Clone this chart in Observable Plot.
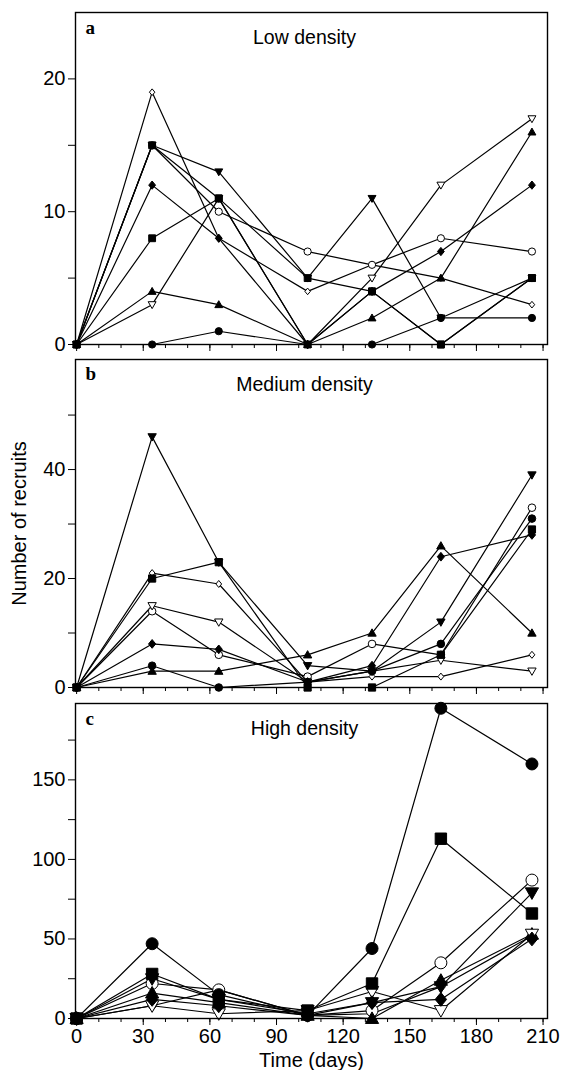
<!DOCTYPE html>
<html><head><meta charset="utf-8">
<script src="https://cdn.jsdelivr.net/npm/d3@7"></script>
<script src="https://cdn.jsdelivr.net/npm/@observablehq/plot@0.6"></script>
<style>body{margin:0;background:#fff}#chart svg{display:block}</style>
</head><body><div id="chart"></div><script>
// ---- data ----
const times = [0, 34, 64, 104, 133, 164, 205];
// drawing order (later keys are drawn on top)
const seriesKeys = ["openDiamond","openCircle","filledTriUp","filledTriDown","openTriDown","filledCircle","filledDiamond","filledSquare","filledSquare2"];
const xTickLabels = [0, 30, 60, 90, 120, 150, 180, 210];

// Low density
const lowOpenDiamond   = [0, 19, 8, 4, 6, 5, 3];
const lowOpenCircle    = [0, 15, 10, 7, 6, 8, 7];
const lowTriUp         = [0, 4, 3, 0, 2, 5, 16];
const lowTriDown       = [0, 15, 13, 5, 11, 2, 5];
const lowOpenTriDown   = [0, 3, 11, 0, 5, 12, 17];
const lowFilledCircle  = [0, 0, 1, 0, 0, 2, 2];
const lowFilledDiamond = [0, 12, 8, 0, 4, 7, 12];
const lowSquare        = [0, 15, 11, 5, 4, 0, 5];
const lowSquare2       = [0, 8, 11, 0, 4, 0, 5];

// Medium density
const medOpenDiamond   = [0, 21, 19, 1, 2, 2, 6];
const medOpenCircle    = [0, 14, 6, 2, 8, 6, 33];
const medTriUp         = [0, 3, 3, 6, 10, 26, 10];
const medTriDown       = [0, 46, 23, 4, 3, 12, 39];
const medOpenTriDown   = [0, 15, 12, 1, 3, 5, 3];
const medFilledCircle  = [0, 4, 0, 1, 3, 8, 31];
const medFilledDiamond = [0, 8, 7, 1, 4, 24, 28];
const medSquare        = [0, 20, 23, 0, 0, 6, 29];

// High density
const highOpenDiamond   = [0, 8, 18, 2, 3, 20, 52];
const highOpenCircle    = [0, 22, 18, 2, 5, 35, 87];
const highTriUp         = [0, 16, 10, 2, 0, 24, 53];
const highTriDown       = [0, 25, 12, 3, 10, 20, 79];
const highOpenTriDown   = [0, 8, 3, 5, 17, 5, 53];
const highFilledCircle  = [0, 47, 15, 2, 44, 195, 160];
const highFilledDiamond = [0, 12, 8, 2, 10, 12, 50];
const highSquare        = [0, 28, 12, 5, 22, 113, 66];

const lowRows  = [lowOpenDiamond, lowOpenCircle, lowTriUp, lowTriDown, lowOpenTriDown, lowFilledCircle, lowFilledDiamond, lowSquare, lowSquare2];
const medRows  = [medOpenDiamond, medOpenCircle, medTriUp, medTriDown, medOpenTriDown, medFilledCircle, medFilledDiamond, medSquare, null];
const highRows = [highOpenDiamond, highOpenCircle, highTriUp, highTriDown, highOpenTriDown, highFilledCircle, highFilledDiamond, highSquare, null];

// ---- symbols ----
const rr = s => Math.sqrt(s / Math.PI);
const symCircle = {draw(c, s){const r = rr(s); c.moveTo(r,0); c.arc(0,0,r,0,2*Math.PI);}};
const symSquare = {draw(c, s){const h = rr(s)*0.95; c.rect(-h,-h,2*h,2*h);}};
const symTriUp = {draw(c, s){const r = rr(s)*1.1; c.moveTo(0,-r); c.lineTo(r,r*0.75); c.lineTo(-r,r*0.75); c.closePath();}};
const symTriDown = {draw(c, s){const r = rr(s)*1.1; c.moveTo(0,r); c.lineTo(r,-r*0.75); c.lineTo(-r,-r*0.75); c.closePath();}};
const symDiamond = {draw(c, s){const r = rr(s); c.moveTo(0,-r*1.15); c.lineTo(r*0.95,0); c.lineTo(0,r*1.15); c.lineTo(-r*0.95,0); c.closePath();}};
const symbolOf = {filledCircle:[symCircle,"black"], openCircle:[symCircle,"white"], filledSquare:[symSquare,"black"], filledSquare2:[symSquare,"black"],
  filledTriUp:[symTriUp,"black"], filledTriDown:[symTriDown,"black"], openTriDown:[symTriDown,"white"], filledDiamond:[symDiamond,"black"], openDiamond:[symDiamond,"white"]};
const sizeScale = {openDiamond: 0.8};

function panel(o) {
  const data = [];
  seriesKeys.forEach((k, i) => { const row = o.rows[i]; if (row) row.forEach((v, j) => data.push({k, t: times[j], v})); });
  const marks = [
    Plot.axisY({ticks: o.yTicks, tickSize: 7, tickPadding: 3, fontSize: 20, label: o.yLabel || null,
      labelAnchor: "center", labelOffset: 64, labelArrow: "none"}),
    Plot.axisY({ticks: o.yMinor, tickSize: 7, tickFormat: () => "", label: null}),
    Plot.axisX({ticks: d3.range(0, 211, 10), tickSize: 4, tickFormat: () => "", label: null}),
    Plot.axisX({ticks: xTickLabels, tickSize: 7, tickPadding: 3, fontSize: 20,
      tickFormat: o.showX ? (d => d) : (() => ""), label: o.showX ? "Time (days)" : null,
      labelAnchor: "center", labelOffset: 48, labelArrow: "none"}),
    Plot.line(data, {x: "t", y: "v", z: "k", stroke: "black", strokeWidth: 1.2}),
  ];
  seriesKeys.forEach((k, i) => {
    if (!o.rows[i]) return;
    const [sym, fill] = symbolOf[k];
    marks.push(Plot.dot(data.filter(d => d.k === k), {x: "t", y: "v", symbol: sym, fill, stroke: "black", strokeWidth: 1,
      r: o.r * (sizeScale[k] || 1)}));
  });
  marks.push(
    Plot.frame({stroke: "black", strokeWidth: 1.4}),
    Plot.text([o.title], {text: d => d, frameAnchor: "top", lineAnchor: "middle", dx: -7, dy: 25, fontSize: 19.5}),
    Plot.text([o.letter], {text: d => d, frameAnchor: "top-left", lineAnchor: "middle", textAnchor: "start", dx: 10, dy: o.letterDy, fontSize: 19, fontWeight: "bold", fontFamily: "Liberation Serif, serif"})
  );
  return Plot.plot({
    width: 562, height: o.height, marginTop: o.mt, marginBottom: o.mb, marginLeft: 75, marginRight: 15,
    x: {domain: [-0.5, 212]}, y: {domain: [0, o.yMax]},
    style: {fontFamily: "Liberation Sans, Arial, sans-serif", fontSize: "19px", color: "black", background: "white", overflow: "visible"},
    marks
  });
}

const chart = document.getElementById("chart");
chart.append(panel({rows: lowRows, yMax: 25, yTicks: [0, 10, 20], yMinor: [5, 15], title: "Low density", letter: "a", letterDy: 15,
  height: 352, mt: 12, mb: 8, r: 3.6}));
chart.append(panel({rows: medRows, yMax: 60.2, yTicks: [0, 20, 40], yMinor: [10, 30, 50], title: "Medium density", letter: "b", letterDy: 14,
  height: 343, mt: 7, mb: 8, r: 3.8, yLabel: "Number of recruits"}));
chart.append(panel({rows: highRows, yMax: 198, yTicks: [0, 50, 100, 150], yMinor: [25, 75, 125, 175], title: "High density", letter: "c", letterDy: 15,
  height: 375, mt: 8, mb: 52, r: 6, showX: true}));
</script></body></html>
